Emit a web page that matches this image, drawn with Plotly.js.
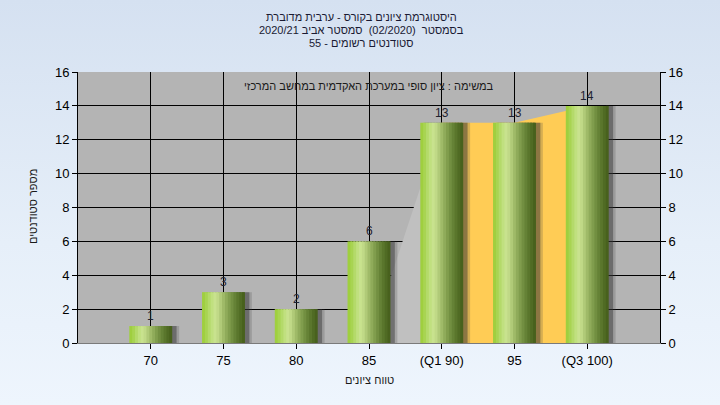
<!DOCTYPE html>
<html>
<head>
<meta charset="utf-8">
<script src="https://cdn.plot.ly/plotly-3.0.1.min.js"></script>
<style>
  html, body { margin: 0; padding: 0; }
  body { width: 720px; height: 405px; background: linear-gradient(to bottom, #d5e1f1 0%, #e6eff9 60%, #eef5fd 100%); }
  #chart { width: 720px; height: 405px; }
</style>
</head>
<body>
<div id="chart"></div>
<script>
// ---- data ----
const categories = ['70', '75', '80', '85', '(Q1 90)', '95', '(Q3 100)'];
const counts = [1, 3, 2, 6, 13, 13, 14];
// background band (outside / inside the Q1–Q3 range)
const grayBandX = ['85', '(Q1 90)'];
const grayBandY = [0, 13];
const quartileBandX = ['(Q1 90)', '95', '(Q3 100)'];
const quartileBandY = [13, 13, 14];
const yTicks = [0, 2, 4, 6, 8, 10, 12, 14, 16];
const titleLines = [
  'היסטוגרמת ציונים בקורס - ערבית מדוברת',
  'בסמסטר  (02/2020)  סמסטר אביב 2020/21',
  'סטודנטים רשומים - 55'
];
const subTitle = 'במשימה : ציון סופי במערכת האקדמית במחשב המרכזי';
const xTitle = 'טווח ציונים';
const yTitle = 'מספר סטודנטים';

// ---- styling ----
const RTL = s => '\u202B' + s + '\u202C';
const FONT = 'Liberation Sans, Arial, DejaVu Sans, sans-serif';
const W = 0.59;
const stripColors = ['#9fcf3f', '#a8d452', '#b4da6a', '#c0e07f', '#c8e28e', '#c0d987',
                     '#b0ca78', '#9fba68', '#8fab5a', '#809d4d', '#728f41', '#658236',
                     '#5a762c', '#506b24', '#48611d'];
const N = stripColors.length;

const traces = [];
traces.push({
  type: 'scatter', x: grayBandX, y: grayBandY, fill: 'tozeroy', mode: 'lines',
  line: {width: 0, color: '#c0c0c0'}, fillcolor: '#c0c0c0', hoverinfo: 'skip',
  xaxis: 'x', yaxis: 'y', showlegend: false
});
traces.push({
  type: 'scatter', x: quartileBandX, y: quartileBandY, fill: 'tozeroy', mode: 'lines',
  line: {width: 0, color: '#ffcc55'}, fillcolor: '#ffcc55', hoverinfo: 'skip',
  xaxis: 'x', yaxis: 'y', showlegend: false
});
// shadows
traces.push({
  type: 'bar', x: categories, y: counts, width: W, offset: -W / 2 + 0.095,
  marker: {color: 'rgba(70,70,70,0.22)', line: {width: 0}},
  xaxis: 'x', yaxis: 'y2', hoverinfo: 'skip', showlegend: false
});
traces.push({
  type: 'bar', x: categories, y: counts, width: W, offset: -W / 2 + 0.06,
  marker: {color: 'rgba(50,50,50,0.45)', line: {width: 0}},
  xaxis: 'x', yaxis: 'y2', hoverinfo: 'skip', showlegend: false
});
// gradient strips of each bar (each slightly overlapping the next)
const sw = W / N;
for (let i = 0; i < N; i++) {
  const last = i === N - 1;
  traces.push({
    type: 'bar', x: categories, y: counts,
    width: last ? sw : sw * 1.6, offset: -W / 2 + i * sw,
    marker: {color: stripColors[i], line: {width: 0}},
    xaxis: 'x', yaxis: 'y2', hoverinfo: 'skip', showlegend: false
  });
}

const plotTop = 72, plotBottom = 343, plotLeft = 78, plotRight = 660;
const ph = plotBottom - plotTop, pw = plotRight - plotLeft;
const py = px => (plotBottom - px) / ph;
const pxx = px => (px - plotLeft) / pw;

const annotations = titleLines.map((t, i) => ({
  text: RTL(t), xref: 'paper', yref: 'paper', x: pxx(361), y: py(17 + 13 * i),
  xanchor: 'center', yanchor: 'middle', showarrow: false,
  font: {family: FONT, size: 11, color: '#1a1a33'}
}));
annotations.push({
  text: RTL(subTitle), xref: 'paper', yref: 'paper', x: 0.5, y: py(86),
  xanchor: 'center', yanchor: 'middle', showarrow: false,
  font: {family: FONT, size: 11, color: '#1a1a1a'}
});
annotations.push({
  text: RTL(xTitle), xref: 'paper', yref: 'paper', x: pxx(369), y: py(380),
  xanchor: 'center', yanchor: 'middle', showarrow: false,
  font: {family: FONT, size: 11, color: '#1a1a1a'}
});
annotations.push({
  text: RTL(yTitle), xref: 'paper', yref: 'paper', x: pxx(33), y: py(207),
  xanchor: 'center', yanchor: 'middle', showarrow: false, textangle: -90,
  font: {family: FONT, size: 11, color: '#1a1a1a'}
});
// value labels above bars (x given as category index)
categories.forEach((c, i) => {
  annotations.push({
    text: String(counts[i]), xref: 'x', yref: 'y2', x: i, y: counts[i],
    xanchor: 'center', yanchor: 'bottom', yshift: 1, showarrow: false,
    font: {family: FONT, size: 12, color: '#1e2230'}
  });
});

const layout = {
  width: 720, height: 405,
  margin: {l: plotLeft, r: 720 - plotRight, t: plotTop, b: 405 - plotBottom, pad: 0},
  paper_bgcolor: 'rgba(0,0,0,0)',
  plot_bgcolor: '#b4b4b4',
  barmode: 'overlay',
  showlegend: false,
  font: {family: FONT, size: 13, color: '#000'},
  xaxis: {
    type: 'category', categoryorder: 'array', categoryarray: categories,
    range: [-1, 7], showgrid: true, gridcolor: '#000', gridwidth: 1,
    ticks: 'outside', ticklen: 5, tickcolor: '#000', showline: true, linecolor: '#7a7a7a',
    linewidth: 1, zeroline: false, tickfont: {family: FONT, size: 13, color: '#000'},
    fixedrange: true
  },
  yaxis: {
    range: [0, 16], tickvals: yTicks, showgrid: true, gridcolor: '#000', gridwidth: 1,
    ticks: 'outside', ticklen: 5, tickcolor: '#000', showline: true, linecolor: '#000',
    zeroline: false, tickfont: {family: FONT, size: 13, color: '#000'}, fixedrange: true
  },
  yaxis2: {
    overlaying: 'y', side: 'right', range: [0, 16], tickvals: yTicks, showgrid: false,
    ticks: 'outside', ticklen: 5, tickcolor: '#000', showline: true, linecolor: '#000',
    zeroline: false, tickfont: {family: FONT, size: 13, color: '#000'}, fixedrange: true
  },
  annotations: annotations
};

Plotly.newPlot('chart', traces, layout, {displayModeBar: false, staticPlot: true});
</script>
</body>
</html>
